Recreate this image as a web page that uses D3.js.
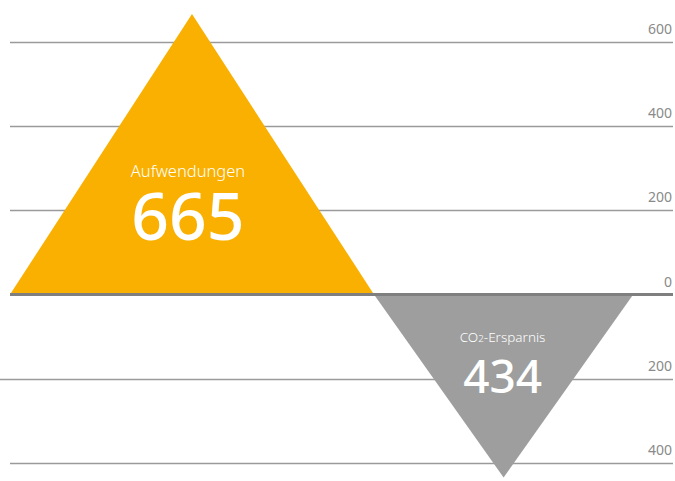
<!DOCTYPE html>
<html>
<head>
<meta charset="utf-8">
<script src="https://d3js.org/d3.v7.min.js"></script>
<style>
body { margin: 0; background: #fff; }
svg { display: block; font-family: 'Noto Sans', 'Open Sans', sans-serif; }
</style>
</head>
<body>
<div id="chart"></div>
<script>
// data
var categories = ["Aufwendungen", "CO2-Ersparnis"];
var values = [665, -434];
var colors = ["#f9b000", "#9d9e9d"];
var tickValues = [600, 400, 200, 0, -200, -400];

var W = 675, H = 481;

var svg = d3.select("#chart").append("svg")
  .attr("width", W).attr("height", H);

var y = d3.scaleLinear().domain([0, 600]).range([294.5, 41.5]);

// triangle bases on the x axis (left, shared, right)
var x = d3.scaleLinear().domain([0, 1]).range([10, 673]);
var edges = [0, 0.549, 0.940];

// grid lines
svg.selectAll(".grid")
  .data(tickValues.filter(function(d) { return d !== 0; }))
  .enter().append("line")
  .attr("x1", function(d) { return d === -200 ? 0 : x(0); })
  .attr("x2", x(1))
  .attr("y1", function(d) { return Math.round(y(d)) + 0.5; })
  .attr("y2", function(d) { return Math.round(y(d)) + 0.5; })
  .attr("stroke", "#9a9a9a")
  .attr("stroke-width", 1.5);

// triangles
var tri = svg.selectAll(".tri")
  .data(values)
  .enter().append("g");

tri.append("path")
  .attr("d", function(d, i) {
    var x0 = x(edges[i]), x1 = x(edges[i + 1]);
    var xm = (x0 + x1) / 2;
    return "M" + x0 + "," + y(0) + "L" + xm + "," + y(d) + "L" + x1 + "," + y(0) + "Z";
  })
  .attr("fill", function(d, i) { return colors[i]; });

// zero line
svg.append("line")
  .attr("x1", x(0)).attr("x2", x(1))
  .attr("y1", y(0)).attr("y2", y(0))
  .attr("stroke", "#7f7f7f")
  .attr("stroke-width", 3);

// tick labels
svg.selectAll(".tick")
  .data(tickValues)
  .enter().append("text")
  .attr("x", 672)
  .attr("y", function(d) { return y(d) - 8; })
  .attr("text-anchor", "end")
  .attr("font-size", 14)
  .attr("fill", "#8a8a8a")
  .text(function(d) { return Math.abs(d); });

// labels inside triangles
var labelPos = [
  {dx: -4, nameY: 177, nameSize: 16.5, valY: 240, valSize: 66},
  {dx: -1, nameY: 342, nameSize: 13.5, valY: 393, valSize: 46}
];

tri.append("text")
  .attr("x", function(d, i) { return (x(edges[i]) + x(edges[i + 1])) / 2 + labelPos[i].dx; })
  .attr("y", function(d, i) { return labelPos[i].nameY; })
  .attr("text-anchor", "middle")
  .attr("font-size", function(d, i) { return labelPos[i].nameSize; })
  .attr("font-weight", 300)
  .attr("fill", "#fff")
  .each(function(d, i) {
    var t = d3.select(this);
    if (categories[i] === "CO2-Ersparnis") {
      t.append("tspan").text("CO");
      t.append("tspan").attr("font-size", "0.72em").text("2");
      t.append("tspan").text("-Ersparnis");
    } else {
      t.text(categories[i]);
    }
  });

tri.append("text")
  .attr("x", function(d, i) { return (x(edges[i]) + x(edges[i + 1])) / 2 + labelPos[i].dx; })
  .attr("y", function(d, i) { return labelPos[i].valY; })
  .attr("text-anchor", "middle")
  .attr("font-size", function(d, i) { return labelPos[i].valSize; })
  .attr("font-weight", 500)
  .attr("fill", "#fff")
  .text(function(d) { return Math.abs(d); });
</script>
</body>
</html>
